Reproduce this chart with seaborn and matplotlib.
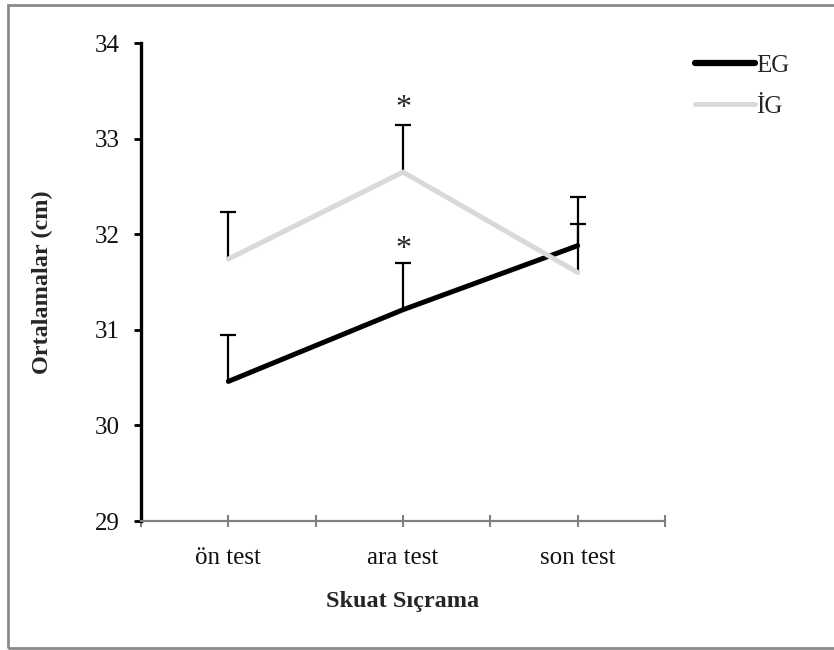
import matplotlib
matplotlib.use("Agg")
import matplotlib.pyplot as plt
import seaborn as sns
import pandas as pd
import numpy as np
from matplotlib.patches import Rectangle

categories = ["ön test", "ara test", "son test"]
eg_values = [30.46, 31.21, 31.88]
eg_err = [0.49, 0.49, 0.51]
ig_values = [31.74, 32.65, 31.60]
ig_err = [0.49, 0.49, 0.51]
yticks = [29, 30, 31, 32, 33, 34]

df = pd.DataFrame({
    "test": categories * 2,
    "value": eg_values + ig_values,
    "grup": ["EG"] * 3 + ["İG"] * 3,
})

sns.set_theme(style="white")
plt.rcParams["font.family"] = ["Liberation Serif", "DejaVu Serif"]

fig = plt.figure(figsize=(8.34, 6.5), dpi=100)
ax = fig.add_axes([141/834, 1-521/650, (665-141)/834, (521-43)/650])

fig.patches.append(Rectangle((8/834, 2/650), 1.2, 1-7/650, transform=fig.transFigure,
                             fill=False, edgecolor="#8a8a8a", linewidth=2, zorder=-1))

x = np.arange(len(categories))
for vals, errs in [(eg_values, eg_err), (ig_values, ig_err)]:
    vals = np.array(vals)
    errs = np.array(errs)
    ax.errorbar(x, vals, yerr=[np.zeros(3), errs], fmt="none", ecolor="black",
                elinewidth=1.6, capsize=0, zorder=2)
    ax.plot(x, vals + errs, linestyle="none", marker="_", markersize=12,
            markeredgewidth=1.6, color="black", zorder=2)

sns.lineplot(data=df, x="test", y="value", hue="grup",
             palette={"EG": "black", "İG": "#d9d9d9"}, ax=ax, sort=False,
             linewidth=3.6, zorder=3, legend=True)
for line, lw in zip(ax.lines[-2:], [3.8, 3.0]):
    line.set_linewidth(lw)
    line.set_solid_capstyle("round")

ax.text(1, 33.32, "*", ha="center", va="center", fontsize=23)
ax.text(1, 31.84, "*", ha="center", va="center", fontsize=23)

ax.set_xlim(-0.5, 2.5)
ax.set_ylim(29, 34)
ax.set_yticks(yticks)
ax.set_xticks(x)
ax.set_xticks([-0.5, 0.5, 1.5, 2.5], minor=True)
ax.set_xticklabels(categories)
ax.tick_params(axis="y", direction="out", length=5, width=2, color="black",
               labelsize=18, pad=10, left=True)
ax.tick_params(axis="x", which="both", direction="inout", length=9, width=1.5,
               color="#808080", labelsize=18, pad=14, bottom=True)
for lab in ax.get_xticklabels() + ax.get_yticklabels():
    lab.set_color("#111111")

for s in ["top", "right"]:
    ax.spines[s].set_visible(False)
ax.spines["left"].set_color("black")
ax.spines["left"].set_linewidth(2.4)
ax.spines["bottom"].set_color("#808080")
ax.spines["bottom"].set_linewidth(1.6)
ax.grid(False)

ax.set_xlabel("Skuat Sıçrama", fontsize=17.5, fontweight="bold", labelpad=16)
ax.set_ylabel("Ortalamalar (cm)", fontsize=17.5, fontweight="bold", labelpad=30)

handles, labels = ax.get_legend_handles_labels()
leg = ax.legend(handles, labels, loc="upper left", bbox_to_anchor=(690/834, 1-49/650),
                bbox_transform=fig.transFigure, frameon=False, fontsize=18,
                handlelength=2.4, handletextpad=0.05, labelspacing=0.75,
                borderaxespad=0, borderpad=0.2)
for h, lw in zip(leg.get_lines(), [4.5, 3.5]):
    h.set_linewidth(lw)

fig.savefig("out.png", dpi=100)
